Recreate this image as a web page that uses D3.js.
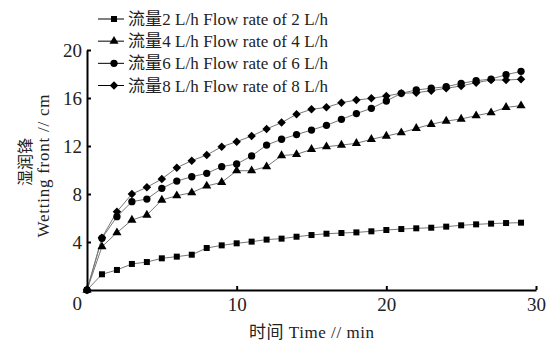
<!DOCTYPE html>
<html>
<head>
<meta charset="utf-8">
<script src="https://cdn.jsdelivr.net/npm/d3@7"></script>
<style>
  html, body { margin: 0; padding: 0; background: #fff; }
  svg { display: block; }
</style>
</head>
<body>
<div id="chart"></div>
<script>
// time in minutes
const times = [0, 1, 2, 3, 4, 5, 6, 7, 8, 9, 10, 11, 12, 13, 14, 15, 16, 17, 18, 19, 20, 21, 22, 23, 24, 25, 26, 27, 28, 29];

// wetting front (cm) per flow rate
const flow2 = [0, 1.31, 1.67, 2.17, 2.33, 2.64, 2.78, 2.94, 3.5, 3.72, 3.89, 4.03, 4.2, 4.28, 4.44, 4.58, 4.69, 4.75, 4.8, 4.89, 5.0, 5.08, 5.14, 5.19, 5.28, 5.39, 5.47, 5.53, 5.58, 5.61];
const flow4 = [0, 3.61, 4.78, 5.83, 6.25, 7.5, 7.86, 8.11, 8.67, 8.97, 9.94, 9.94, 10.28, 11.2, 11.3, 11.72, 11.94, 12.08, 12.22, 12.56, 12.83, 13.11, 13.47, 13.81, 14.08, 14.25, 14.53, 14.78, 15.22, 15.36];
const flow6 = [0, 4.31, 6.11, 7.36, 7.58, 8.47, 9.08, 9.44, 9.72, 10.28, 10.5, 11.17, 12.08, 12.56, 12.95, 13.33, 13.72, 14.22, 14.7, 15.14, 15.75, 16.39, 16.67, 16.81, 16.94, 17.22, 17.44, 17.58, 17.94, 18.22];
const flow8 = [0, 4.36, 6.53, 8.0, 8.56, 9.25, 10.19, 10.78, 11.25, 11.94, 12.36, 12.83, 13.42, 13.95, 14.64, 15.06, 15.22, 15.61, 15.83, 15.97, 16.17, 16.39, 16.44, 16.61, 16.81, 17.0, 17.28, 17.5, 17.5, 17.56];

const seriesNames = ["流量2 L/h Flow rate of 2 L/h", "流量4 L/h Flow rate of 4 L/h", "流量6 L/h Flow rate of 6 L/h", "流量8 L/h Flow rate of 8 L/h"];
const xTicks = [10, 20, 30];
const yTicks = [0, 4, 8, 12, 16, 20];

const width = 554, height = 342;
const serif = "'Liberation Serif', 'Times New Roman', 'Noto Sans CJK SC', serif";

const svg = d3.select("#chart").append("svg")
  .attr("width", width)
  .attr("height", height);

const x = d3.scaleLinear().domain([0, 30]).range([87, 536]);
const y = d3.scaleLinear().domain([0, 20]).range([290, 50]);

const series = [
  { name: seriesNames[0], values: flow2, symbol: d3.symbolSquare, size: 36, rotate: 0 },
  { name: seriesNames[1], values: flow4, symbol: d3.symbolTriangle, size: 36, rotate: 0 },
  { name: seriesNames[2], values: flow6, symbol: d3.symbolCircle, size: 42, rotate: 0 },
  { name: seriesNames[3], values: flow8, symbol: d3.symbolSquare, size: 36, rotate: 45 }
];

const line = d3.line()
  .x((d, i) => x(times[i]))
  .y(d => y(d));

// lines
svg.append("g").selectAll("path")
  .data(series)
  .enter()
  .append("path")
  .attr("d", d => line(d.values))
  .attr("fill", "none")
  .attr("stroke", "#777")
  .attr("stroke-width", 1);

// markers
series.forEach(s => {
  svg.append("g").selectAll("path")
    .data(s.values)
    .enter()
    .append("path")
    .attr("d", d3.symbol().type(s.symbol).size(s.size))
    .attr("transform", (d, i) => "translate(" + x(times[i]) + "," + y(d) + ") rotate(" + s.rotate + ")")
    .attr("fill", "#000");
});

// axes
const xAxis = svg.append("g")
  .attr("transform", "translate(0," + y(0) + ")")
  .call(d3.axisBottom(x).tickValues(xTicks).tickSizeInner(-4).tickSizeOuter(0).tickPadding(8).tickFormat(d3.format("d")));

const yAxis = svg.append("g")
  .attr("transform", "translate(" + x(0) + ",0)")
  .call(d3.axisLeft(y).tickValues(yTicks).tickSizeInner(-4).tickSizeOuter(0).tickPadding(5).tickFormat(d3.format("d")));

[xAxis, yAxis].forEach(a => {
  a.select(".domain").attr("stroke", "#000").attr("stroke-width", 2);
  a.selectAll(".tick line").attr("stroke", "#000").attr("stroke-width", 2);
  a.selectAll(".tick text")
    .attr("fill", "#222")
    .style("font-family", serif)
    .style("font-size", "19px");
});
yAxis.selectAll(".tick").filter(d => d === 0).select("text").attr("dy", "1.05em");

// axis titles
svg.append("text")
  .attr("x", x(15))
  .attr("y", 338)
  .attr("text-anchor", "middle")
  .attr("textLength", 125)
  .attr("lengthAdjust", "spacing")
  .style("font-family", serif)
  .style("font-size", "17px")
  .attr("fill", "#222")
  .text("时间 Time // min");

svg.append("text")
  .attr("transform", "translate(31,162) rotate(-90)")
  .attr("text-anchor", "middle")
  .style("font-family", serif)
  .style("font-size", "16px")
  .attr("fill", "#222")
  .text("湿润锋");

svg.append("text")
  .attr("transform", "translate(49,166) rotate(-90)")
  .attr("text-anchor", "middle")
  .attr("textLength", 143)
  .attr("lengthAdjust", "spacing")
  .style("font-family", serif)
  .style("font-size", "17px")
  .attr("fill", "#222")
  .text("Wetting front // cm");

// legend
const legend = svg.append("g");
const rowY = d3.scaleLinear().domain([0, 3]).range([19, 85.5]);
series.forEach((s, i) => {
  const g = legend.append("g").attr("transform", "translate(0," + rowY(i) + ")");
  g.append("line")
    .attr("x1", 98).attr("x2", 124)
    .attr("stroke", "#000").attr("stroke-width", 1);
  g.append("path")
    .attr("d", d3.symbol().type(s.symbol).size(s.size))
    .attr("transform", "translate(114,0) rotate(" + s.rotate + ")")
    .attr("fill", "#000");
  g.append("text")
    .attr("x", 128)
    .attr("y", 6)
    .attr("textLength", 200)
    .attr("lengthAdjust", "spacing")
    .style("font-family", serif)
    .style("font-size", "17px")
    .attr("fill", "#222")
    .text(s.name);
});
</script>
</body>
</html>
